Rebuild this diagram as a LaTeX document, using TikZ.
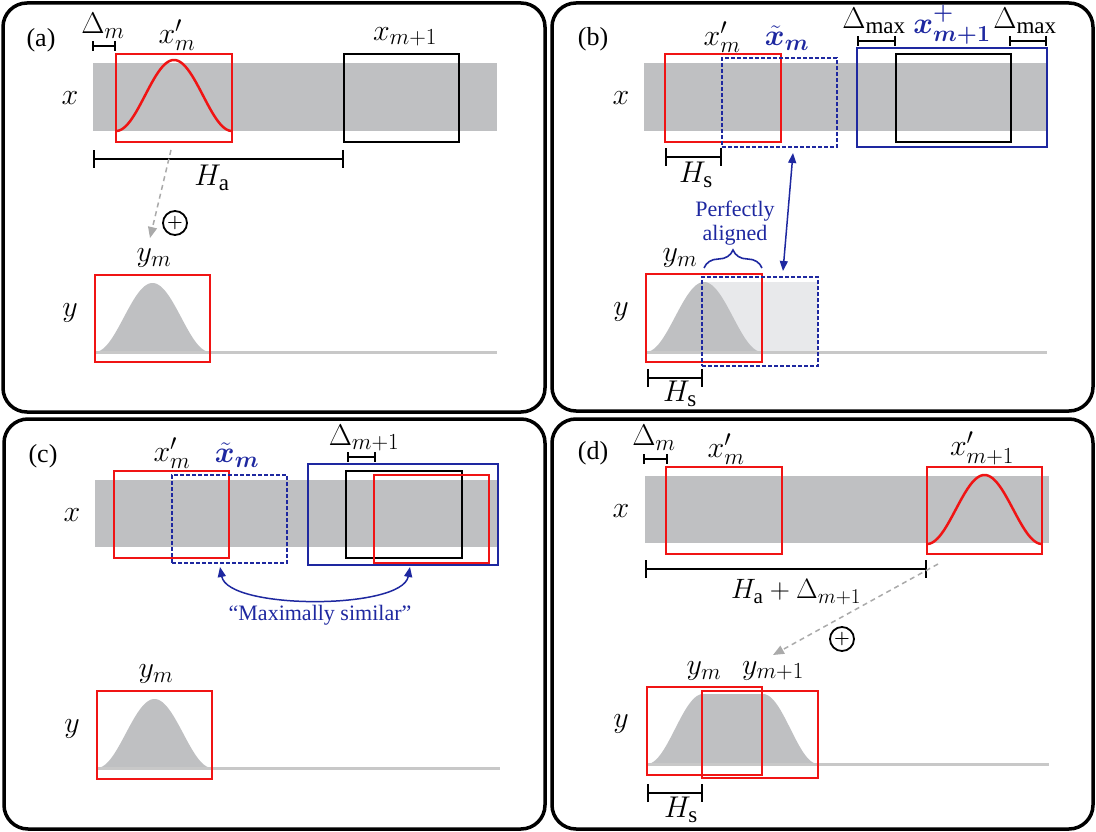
\RequirePackage{fix-cm}
\documentclass[tikz,border=0pt]{standalone}
\usepackage{amsmath}
\usepackage{bm}
\usepackage{fontspec}
\setmainfont{Liberation Serif}
\DeclareMathSizes{30}{30}{23}{17}
\DeclareMathSizes{28}{28}{21}{16}
\usetikzlibrary{arrows.meta,decorations.pathreplacing,fit,calc}
\definecolor{band}{RGB}{191,192,194}
\definecolor{lband}{RGB}{232,233,235}
\definecolor{basec}{RGB}{200,200,200}
\definecolor{rd}{RGB}{240,20,20}
\definecolor{bl}{RGB}{30,40,160}
\definecolor{ag}{RGB}{170,170,170}
\tikzset{
  panel/.style={draw, line width=3.5pt, rounded corners=24pt, inner sep=0pt},
  bandst/.style={fill=band, inner sep=0pt},
  rbox/.style={draw=rd, line width=2pt, inner sep=0pt},
  kbox/.style={draw=black, line width=2pt, inner sep=0pt},
  bbox/.style={draw=bl, line width=2pt, inner sep=0pt},
  bdbox/.style={draw=bl, line width=2pt, dash pattern=on 4pt off 2pt, inner sep=0pt},
  dimbar/.style={line width=2pt, {Bar[width=18pt]}-{Bar[width=18pt]}},
  sdimbar/.style={line width=2pt, {Bar[width=10pt]}-{Bar[width=10pt]}},
  ggarrow/.style={draw=ag, line width=1.5pt, dash pattern=on 5pt off 4pt, -{Triangle[length=11pt,width=9pt]}},
  barrow/.style={draw=bl, line width=1.5pt, {Triangle[length=10pt,width=8pt]}-{Triangle[length=10pt,width=8pt]}},
  oplus/.style={circle, draw, line width=1.8pt, minimum size=24pt, inner sep=0pt, font=\fontsize{18}{18}\selectfont},
  basel/.style={draw=basec, line width=3pt},
  redcurve/.style={draw=rd, line width=2.5pt},
  txt/.style={font=\fontsize{22}{24}\selectfont, text=bl, align=center},
  lbl/.style={inner sep=0pt},
  mlbl/.style={inner sep=0pt, font=\fontsize{30}{34}\selectfont},
  slbl/.style={inner sep=0pt, font=\fontsize{28}{32}\selectfont}
}
\begin{document}
\begin{tikzpicture}[x=1pt,y=-1pt,font=\fontsize{26}{30}\selectfont]
\useasboundingbox (0,0) rectangle (1096,832);

% ================= Panel (a) =================
\node[panel, fit={(3,3)(545,412)}] (pA) {};
\node[bandst, fit={(93,63)(497,131)}] (bandA) {};
\draw[redcurve] plot[domain=116:232, samples=80] (\x,{131-71*(1-cos((\x-116)/116*360))/2});
\node[rbox, fit={(116,54)(232,142)}] (xmA) {};
\node[kbox, fit={(344,54)(459,142)}] (xnA) {};
\node[lbl] (labA) at (41,40) {(a)};
\node[mlbl] (xA) at (70,98) {$x$};
\node[mlbl] (yA) at (70,313) {$y$};
\node[mlbl] (dmAl) at (103,26) {$\Delta_m$};
\coordinate (dmA1) at (92,46); \coordinate (dmA2) at (116,46);
\draw[sdimbar] (dmA1) -- (dmA2);
\node[mlbl] (xmAl) at (177,35) {$x'_m$};
\node[mlbl] (xnAl) at (405,37) {$x_{m+1}$};
\coordinate (haA1) at (93,159); \coordinate (haA2) at (344,159);
\draw[dimbar] (haA1) -- (haA2);
\node[mlbl] (haAl) at (212,178) {$H_{\mathrm{a}}$};
\coordinate (arA1) at (171,150); \coordinate (arA2) at (150,238);
\draw[ggarrow] (arA1) -- (arA2);
\node[oplus] (opA) at (175,223) {$\bm{+}$};
\node[mlbl] (ymAl) at (154,258) {$y_m$};
\fill[band] (95,352) -- plot[domain=95:210,samples=80] (\x,{352-69*(1-cos((\x-95)/115*360))/2}) -- (210,352) -- cycle;
\draw[basel] (95,352) -- (497,352);
\node[rbox, fit={(95,275)(210,362)}] (ymA) {};

% ================= Panel (b) =================
\node[panel, fit={(552,3)(1093,411)}] (pB) {};
\node[bandst, fit={(644,63)(1047,131)}] (bandB) {};
\node[rbox, fit={(665,54)(781,142)}] (xmB) {};
\node[bdbox, fit={(722,58)(837,147)}] (xtB) {};
\node[bbox, fit={(857,48)(1047,147)}] (xpB) {};
\node[kbox, fit={(896,54)(1011,142)}] (xnB) {};
\node[lbl] (labB) at (593,39) {(b)};
\node[mlbl] (xB) at (621,98) {$x$};
\node[mlbl] (yB) at (621,312) {$y$};
\node[mlbl] (xmBl) at (722,37) {$x'_m$};
\node[mlbl, text=bl] (xtBl) at (787,38) {$\tilde{\bm{x}}_{\bm{m}}$};
\node[mlbl] (dxB1l) at (874,21) {$\Delta_{\mathrm{max}}$};
\node[mlbl] (dxB2l) at (1025,21) {$\Delta_{\mathrm{max}}$};
\node[mlbl, text=bl] (xpBl) at (952,25) {$\bm{x^{+}_{m+1}}$};
\coordinate (dxB1a) at (857,41); \coordinate (dxB1b) at (896,41);
\draw[sdimbar] (dxB1a) -- (dxB1b);
\coordinate (dxB2a) at (1009,41); \coordinate (dxB2b) at (1047,41);
\draw[sdimbar] (dxB2a) -- (dxB2b);
\coordinate (hsB1) at (665,157); \coordinate (hsB2) at (722,157);
\draw[dimbar] (hsB1) -- (hsB2);
\node[mlbl] (hsBl) at (696,175) {$H_{\mathrm{s}}$};
\coordinate (baB1) at (793,153); \coordinate (baB2) at (783,271);
\draw[barrow] (baB1) -- (baB2);
\node[txt, lbl] (paB) at (735,223) {Perfectly\\aligned};
\coordinate (brB1) at (704,268); \coordinate (brB2) at (762,268);
\draw[draw=bl, line width=1.6pt, decorate, decoration={brace, amplitude=18pt}] (brB1) -- (brB2);
\node[mlbl] (ymBl) at (680,258) {$y_m$};
\fill[lband] (704,282) rectangle (818,352);
\fill[band] (646,352) -- plot[domain=646:762,samples=80] (\x,{352-70*(1-cos((\x-646)/116*360))/2}) -- (762,352) -- cycle;
\draw[basel] (646,352) -- (1047,352);
\node[rbox, fit={(646,274)(762,362)}] (ymB) {};
\node[bdbox, fit={(702,277)(818,366)}] (ytB) {};
\coordinate (hsB3) at (647,378); \coordinate (hsB4) at (703,378);
\draw[dimbar] (hsB3) -- (hsB4);
\node[mlbl] (hsB2l) at (680,394) {$H_{\mathrm{s}}$};

% ================= Panel (c) =================
\node[panel, fit={(4,419)(545,829)}] (pC) {};
\node[bandst, fit={(95,480)(498,547)}] (bandC) {};
\node[rbox, fit={(114,471)(229,558)}] (xmC) {};
\node[bdbox, fit={(172,475)(287,563)}] (xtC) {};
\node[bbox, fit={(308,464)(498,565)}] (xpC) {};
\node[kbox, fit={(346,471)(462,558)}] (xnC) {};
\node[rbox, fit={(374,475)(489,563)}] (xrC) {};
\node[lbl] (labC) at (43,456) {(c)};
\node[mlbl] (xC) at (72,515) {$x$};
\node[mlbl] (yC) at (72,729) {$y$};
\node[mlbl] (xmCl) at (172,453) {$x'_m$};
\node[mlbl, text=bl] (xtCl) at (237,455) {$\tilde{\bm{x}}_{\bm{m}}$};
\node[mlbl] (dnCl) at (364,438) {$\Delta_{m+1}$};
\coordinate (dnC1) at (347,457); \coordinate (dnC2) at (376,457);
\draw[sdimbar] (dnC1) -- (dnC2);
\coordinate (acC1) at (220,567); \coordinate (acC2) at (410,567);
\draw[barrow] (acC1) .. controls (228,610) and (402,610) .. (acC2);
\node[txt, lbl] (msC) at (320,615) {``Maximally similar''};
\node[mlbl] (ymCl) at (156,674) {$y_m$};
\fill[band] (97,768) -- plot[domain=97:212,samples=80] (\x,{768-69*(1-cos((\x-97)/115*360))/2}) -- (212,768) -- cycle;
\draw[basel] (97,768) -- (500,768);
\node[rbox, fit={(97,691)(212,779)}] (ymC) {};

% ================= Panel (d) =================
\node[panel, fit={(552,419)(1093,829)}] (pD) {};
\node[bandst, fit={(645,476)(1049,543)}] (bandD) {};
\node[rbox, fit={(666,467)(782,554)}] (xmD) {};
\draw[redcurve] plot[domain=927:1042, samples=80] (\x,{544-69*(1-cos((\x-927)/115*360))/2});
\node[rbox, fit={(927,467)(1042,554)}] (xnD) {};
\node[lbl] (labD) at (593,453) {(d)};
\node[mlbl] (xD) at (621,511) {$x$};
\node[mlbl] (yD) at (621,724) {$y$};
\node[mlbl] (dmDl) at (654,438) {$\Delta_m$};
\coordinate (dmD1) at (643,459); \coordinate (dmD2) at (668,459);
\draw[sdimbar] (dmD1) -- (dmD2);
\node[mlbl] (xmDl) at (726,449) {$x'_m$};
\node[mlbl] (xnDl) at (982,448) {$x'_{m+1}$};
\coordinate (haD1) at (645,569); \coordinate (haD2) at (927,569);
\draw[dimbar] (haD1) -- (haD2);
\node[slbl] (haDl) at (796,592) {$H_{\mathrm{a}}+\Delta_{m+1}$};
\coordinate (arD1) at (938,564); \coordinate (arD2) at (773,655);
\draw[ggarrow] (arD1) -- (arD2);
\node[oplus] (opD) at (842,639) {$\bm{+}$};
\node[mlbl] (ymDl) at (704,671) {$y_m$};
\node[mlbl] (ynDl) at (773,671) {$y_{m+1}$};
\fill[band] (647,764) -- plot[domain=647:703,samples=50] (\x,{764-70*(1-cos((\x-647)/56*180))/2}) -- plot[domain=763:818,samples=50] (\x,{764-70*(1+cos((\x-763)/55*180))/2}) -- (818,764) -- cycle;
\draw[basel] (647,764) -- (1049,764);
\node[rbox, fit={(647,687)(762,775)}] (ymD) {};
\node[rbox, fit={(702,691)(818,778)}] (ynD) {};
\coordinate (hsD1) at (647,793); \coordinate (hsD2) at (703,793);
\draw[dimbar] (hsD1) -- (hsD2);
\node[mlbl] (hsDl) at (681,810) {$H_{\mathrm{s}}$};
\end{tikzpicture}
\end{document}
